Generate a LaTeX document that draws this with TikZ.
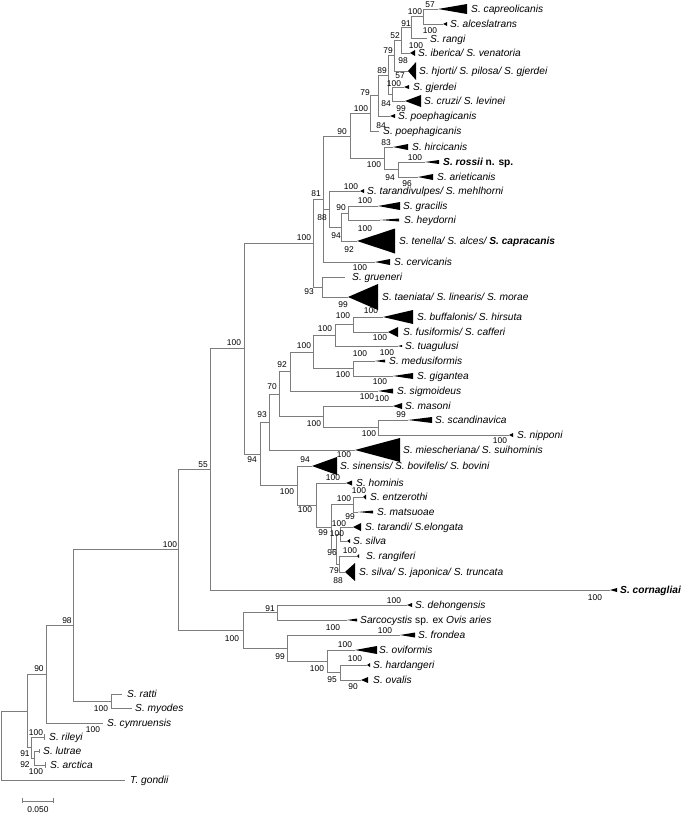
\documentclass[tikz,border=0pt]{standalone}
\usepackage{fontspec}
\setmainfont{Liberation Sans}
\usetikzlibrary{positioning}
\definecolor{branchgray}{RGB}{125,125,125}
\tikzset{
  br/.style={draw=branchgray, line width=0.9pt},
  sp/.style={font=\fontsize{10.2}{12}\selectfont\itshape, inner sep=0pt, anchor=west, text height=7.4pt, text depth=0pt},
  bs/.style={font=\fontsize{8.4}{10}\selectfont, inner sep=0pt, text height=6pt, text depth=0pt},
}
\newcommand{\clade}[3]{\fill (#1) -- ++(#2,#3) -- ++(0,{-2*(#3)}) -- cycle;}

\begin{document}
\begin{tikzpicture}[x=1pt,y=-1pt]
    \useasboundingbox (0,0) rectangle (685,814);

    % internal nodes
    \coordinate (cA) at (423,16.5);
    \coordinate (cB) at (411,27);
    \coordinate (cC) at (401,40);
    \coordinate (cD) at (394,55.5);
    \coordinate (cE) at (388,75);
    \coordinate (cF) at (392,94);
    \coordinate (cP) at (378,95.5);
    \coordinate (cQ) at (370,113);
    \coordinate (cS) at (398,169.5);
    \coordinate (cR) at (384,158);
    \coordinate (cX) at (350,136);
    \coordinate (cU) at (348,213);
    \coordinate (cT) at (341,227);
    \coordinate (cV) at (329,209);
    \coordinate (cWa) at (323,199);
    \coordinate (cWb) at (322,287);
    \coordinate (cW) at (313,243);
    \coordinate (cNd) at (353,324.5);
    \coordinate (cNb) at (335,335);
    \coordinate (cNc) at (353,368.5);
    \coordinate (cNa) at (313,352);
    \coordinate (cMe) at (290,371.5);
    \coordinate (cNn) at (378,427.5);
    \coordinate (cNm) at (323,416.5);
    \coordinate (cMd) at (279,394);
    \coordinate (cMc) at (269,422);
    \coordinate (cH) at (353,504.5);
    \coordinate (cIa) at (340,534);
    \coordinate (cIb) at (339,564);
    \coordinate (cL) at (336,549);
    \coordinate (cJ) at (331,527);
    \coordinate (cK) at (316,505);
    \coordinate (cMb) at (297,485.5);
    \coordinate (cMa) at (260,454);
    \coordinate (cZ) at (244,348.5);
    \coordinate (cXf) at (210,469);
    \coordinate (cYd) at (340,672.5);
    \coordinate (cYc) at (327,661);
    \coordinate (cYb) at (287,648);
    \coordinate (cYa) at (277,612.5);
    \coordinate (cY) at (243,630);
    \coordinate (cXh) at (178,549.5);
    \coordinate (cRM) at (111,701);
    \coordinate (cNe) at (73,625);
    \coordinate (cNf) at (46,674);
    \coordinate (cNh) at (34,758);
    \coordinate (cNg) at (31,747.5);
    \coordinate (cNi) at (27,711);
    \coordinate (root) at (1,745.5);

    % tips
    \coordinate (capreo) at (438,9);
    \coordinate (alces) at (443,24);
    \coordinate (rangi) at (427,38);
    \coordinate (iberica) at (410,53);
    \coordinate (hjorti) at (408,71);
    \coordinate (gjerdei) at (404,87);
    \coordinate (cruzi) at (405,101);
    \coordinate (poepha) at (390,116);
    \coordinate (poephb) at (379,131);
    \coordinate (hirc) at (393,147);
    \coordinate (rossii) at (425,162);
    \coordinate (ariet) at (418,177);
    \coordinate (taranv) at (360,191);
    \coordinate (gracilis) at (378,206);
    \coordinate (heyd) at (380,220);
    \coordinate (tenella) at (357,241);
    \coordinate (cerv) at (375,262);
    \coordinate (gruen) at (345,277);
    \coordinate (taen) at (348,297);
    \coordinate (buff) at (383,317);
    \coordinate (fusif) at (388,332);
    \coordinate (tuag) at (398,346);
    \coordinate (medus) at (375,361);
    \coordinate (gigan) at (393,376);
    \coordinate (sigm) at (378,391);
    \coordinate (masoni) at (393,406);
    \coordinate (scand) at (408,420);
    \coordinate (nipp) at (509,435);
    \coordinate (miesch) at (355,450);
    \coordinate (sinen) at (312,466);
    \coordinate (homin) at (346,483);
    \coordinate (entz) at (363,497);
    \coordinate (matsu) at (358,512);
    \coordinate (tarandi) at (353,527);
    \coordinate (silva) at (347,541);
    \coordinate (rangif) at (357,556);
    \coordinate (silvaj) at (345,572);
    \coordinate (corn) at (610,590);
    \coordinate (dehong) at (407,605);
    \coordinate (sarco) at (347,620);
    \coordinate (frond) at (400,635);
    \coordinate (ovif) at (355,650);
    \coordinate (hardan) at (367,665);
    \coordinate (ovalis) at (361,680);
    \coordinate (ratti) at (122,694);
    \coordinate (myodes) at (132,708);
    \coordinate (cymru) at (103,723);
    \coordinate (rileyi) at (44,737);
    \coordinate (lutrae) at (39,751);
    \coordinate (arctica) at (45,765);
    \coordinate (gondii) at (125,780);

    % branches
    \draw[br] (cA) |- (capreo) (cA) |- (alces);
    \draw[br] (cB) |- (cA) (cB) |- (rangi);
    \draw[br] (cC) |- (cB) (cC) |- (iberica);
    \draw[br] (cD) |- (cC) (cD) |- (hjorti);
    \draw[br] (cF) |- (gjerdei) (cF) |- (cruzi);
    \draw[br] (cE) |- (cD) (cE) |- (cF);
    \draw[br] (cP) |- (cE) (cP) |- (poepha);
    \draw[br] (cQ) |- (cP) (cQ) |- (poephb);
    \draw[br] (cS) |- (rossii) (cS) |- (ariet);
    \draw[br] (cR) |- (hirc) (cR) |- (cS);
    \draw[br] (cX) |- (cQ) (cX) |- (cR);
    \draw[br] (cU) |- (gracilis) (cU) |- (heyd);
    \draw[br] (cT) |- (cU) (cT) |- (tenella);
    \draw[br] (cV) |- (taranv) (cV) |- (cT);
    \draw[br] (cWa) |- (cX) (cWa) |- (cV) (cWa) |- (cerv);
    \draw[br] (cWb) |- (gruen) (cWb) |- (taen);
    \draw[br] (cW) |- (cWa) (cW) |- (cWb);
    \draw[br] (cNd) |- (buff) (cNd) |- (fusif);
    \draw[br] (cNb) |- (cNd) (cNb) |- (tuag);
    \draw[br] (cNc) |- (medus) (cNc) |- (gigan);
    \draw[br] (cNa) |- (cNb) (cNa) |- (cNc);
    \draw[br] (cMe) |- (cNa) (cMe) |- (sigm);
    \draw[br] (cNn) |- (scand) (cNn) |- (nipp);
    \draw[br] (cNm) |- (masoni) (cNm) |- (cNn);
    \draw[br] (cMd) |- (cMe) (cMd) |- (cNm);
    \draw[br] (cMc) |- (cMd) (cMc) |- (miesch);
    \draw[br] (cH) |- (entz) (cH) |- (matsu);
    \draw[br] (cIa) |- (tarandi) (cIa) |- (silva);
    \draw[br] (cIb) |- (rangif) (cIb) |- (silvaj);
    \draw[br] (cL) |- (cIa) (cL) |- (cIb);
    \draw[br] (cJ) |- (cH) (cJ) |- (cL);
    \draw[br] (cK) |- (homin) (cK) |- (cJ);
    \draw[br] (cMb) |- (sinen) (cMb) |- (cK);
    \draw[br] (cMa) |- (cMc) (cMa) |- (cMb);
    \draw[br] (cZ) |- (cW) (cZ) |- (cMa);
    \draw[br] (cXf) |- (cZ) (cXf) |- (corn);
    \draw[br] (cYd) |- (hardan) (cYd) |- (ovalis);
    \draw[br] (cYc) |- (ovif) (cYc) |- (cYd);
    \draw[br] (cYb) |- (frond) (cYb) |- (cYc);
    \draw[br] (cYa) |- (dehong) (cYa) |- (sarco);
    \draw[br] (cY) |- (cYa) (cY) |- (cYb);
    \draw[br] (cXh) |- (cXf) (cXh) |- (cY);
    \draw[br] (cRM) |- (ratti) (cRM) |- (myodes);
    \draw[br] (cNe) |- (cXh) (cNe) |- (cRM);
    \draw[br] (cNf) |- (cNe) (cNf) |- (cymru);
    \draw[br] (cNh) |- (lutrae) (cNh) |- (arctica);
    \draw[br] (cNg) |- (rileyi) (cNg) |- (cNh);
    \draw[br] (cNi) |- (cNf) (cNi) |- (cNg);
    \draw[br] (root) |- (cNi) (root) |- (gondii);

    % collapsed clades
    \clade{capreo}{29}{5}
    \clade{alces}{4}{2}
    \clade{iberica}{5}{3}
    \clade{hjorti}{8}{9}
    \clade{gjerdei}{5}{2}
    \clade{cruzi}{16}{6}
    \clade{poepha}{5}{2}
    \clade{hirc}{15}{3}
    \clade{rossii}{14}{2}
    \clade{ariet}{15}{3}
    \clade{taranv}{4}{2}
    \clade{gracilis}{22}{4}
    \clade{heyd}{19}{1.5}
    \clade{tenella}{38}{12.5}
    \clade{cerv}{15}{3}
    \clade{taen}{30}{13}
    \clade{buff}{30}{7}
    \clade{fusif}{10}{5}
    \clade{tuag}{4}{1}
    \clade{medus}{10}{1.5}
    \clade{gigan}{20}{3}
    \clade{sigm}{15}{2.5}
    \clade{masoni}{9}{3}
    \clade{scand}{24}{3}
    \clade{nipp}{4}{2}
    \clade{miesch}{45}{12}
    \clade{sinen}{25}{9}
    \clade{homin}{6}{2.5}
    \clade{entz}{3}{2.5}
    \clade{matsu}{15}{1.5}
    \clade{tarandi}{8}{4}
    \clade{silva}{3}{2}
    \clade{rangif}{2}{2}
    \clade{silvaj}{10}{9}
    \clade{corn}{7}{2}
    \clade{dehong}{5}{2}
    \clade{sarco}{10}{1.5}
    \clade{frond}{15}{2.5}
    \clade{ovif}{22}{4}
    \clade{hardan}{3}{2}
    \clade{ovalis}{7}{3}
    \draw[br] (rileyi) ++(0,-3) -- ++(0,6);
    \draw[br] (lutrae) ++(0,-2) -- ++(0,4);
    \draw[br] (arctica) ++(0,-3) -- ++(0,6);

    % taxon names
    \node[sp] (tcapreo) at (471,9) {S. capreolicanis};
    \node[sp] (talces) at (450,24) {S. alceslatrans};
    \node[sp] (trangi) at (430,38.5) {S. rangi};
    \node[sp] (tiberica) at (418,53) {S. iberica/ S. venatoria};
    \node[sp] (thjorti) at (419,71) {S. hjorti/ S. pilosa/ S. gjerdei};
    \node[sp] (tgjerdei) at (413,87) {S. gjerdei};
    \node[sp] (tcruzi) at (424,101) {S. cruzi/ S. levinei};
    \node[sp] (tpoepha) at (398,116) {S. poephagicanis};
    \node[sp] (tpoephb) at (383,131) {S. poephagicanis};
    \node[sp] (thirc) at (412,147) {S. hircicanis};
    \node[sp] (trossii) at (443,162) {\textbf{S. rossii} \textbf{\upshape n. sp.}};
    \node[sp] (tariet) at (437,177) {S. arieticanis};
    \node[sp] (ttaranv) at (367,191) {S. tarandivulpes/ S. mehlhorni};
    \node[sp] (tgracilis) at (403,206) {S. gracilis};
    \node[sp] (theyd) at (404,220) {S. heydorni};
    \node[sp] (ttenella) at (399,241) {S. tenella/ S. alces/ \textbf{S. capracanis}};
    \node[sp] (tcerv) at (394,262) {S. cervicanis};
    \node[sp] (tgruen) at (352,277) {S. grueneri};
    \node[sp] (ttaen) at (382,297) {S. taeniata/ S. linearis/ S. morae};
    \node[sp] (tbuff) at (417,317) {S. buffalonis/ S. hirsuta};
    \node[sp] (tfusif) at (403,332) {S. fusiformis/ S. cafferi};
    \node[sp] (ttuag) at (405,346) {S. tuagulusi};
    \node[sp] (tmedus) at (389,361) {S. medusiformis};
    \node[sp] (tgigan) at (417,376) {S. gigantea};
    \node[sp] (tsigm) at (397,391) {S. sigmoideus};
    \node[sp] (tmasoni) at (405,406) {S. masoni};
    \node[sp] (tscand) at (435,420) {S. scandinavica};
    \node[sp] (tnipp) at (517,435) {S. nipponi};
    \node[sp] (tmiesch) at (403,450) {S. miescheriana/ S. suihominis};
    \node[sp] (tsinen) at (340,466) {S. sinensis/ S. bovifelis/ S. bovini};
    \node[sp] (thomin) at (356,482.5) {S. hominis};
    \node[sp] (tentz) at (370,497) {S. entzerothi};
    \node[sp] (tmatsu) at (377,512) {S. matsuoae};
    \node[sp] (ttarandi) at (365,527) {S. tarandi/ S.elongata};
    \node[sp] (tsilva) at (353,541) {S. silva};
    \node[sp] (trangif) at (366,556) {S. rangiferi};
    \node[sp] (tsilvaj) at (359,572) {S. silva/ S. japonica/ S. truncata};
    \node[sp] (tcorn) at (620,590) {\textbf{S. cornagliai}};
    \node[sp] (tdehong) at (415,605) {S. dehongensis};
    \node[sp] (tsarco) at (360,620) {Sarcocystis {\upshape sp. ex} Ovis aries};
    \node[sp] (tfrond) at (418,635) {S. frondea};
    \node[sp] (tovif) at (379,650) {S. oviformis};
    \node[sp] (thardan) at (373,665) {S. hardangeri};
    \node[sp] (tovalis) at (373,680) {S. ovalis};
    \node[sp] (tratti) at (127,694) {S. ratti};
    \node[sp] (tmyodes) at (135,708) {S. myodes};
    \node[sp] (tcymru) at (107,723) {S. cymruensis};
    \node[sp] (trileyi) at (49,737) {S. rileyi};
    \node[sp] (tlutrae) at (43,751) {S. lutrae};
    \node[sp] (tarctica) at (50,765) {S. arctica};
    \node[sp] (tgondii) at (130,780) {T. gondii};

    % bootstrap values
    \node[bs] (b01) at (430,4) {57};
    \node[bs] (b02) at (415,11) {100};
    \node[bs] (b03) at (406,23) {91};
    \node[bs] (b04) at (430,30) {100};
    \node[bs] (b05) at (395,35) {52};
    \node[bs] (b06) at (416,45) {100};
    \node[bs] (b07) at (388,50) {79};
    \node[bs] (b08) at (403,60) {98};
    \node[bs] (b09) at (382,70) {89};
    \node[bs] (b10) at (400,75.5) {57};
    \node[bs] (b11) at (394,83.5) {100};
    \node[bs] (b12) at (365,92) {79};
    \node[bs] (b13) at (386,103) {84};
    \node[bs] (b14) at (401,108) {99};
    \node[bs] (b15) at (361,108) {100};
    \node[bs] (b16) at (381,125) {84};
    \node[bs] (b17) at (342,131) {90};
    \node[bs] (b18) at (386,142) {83};
    \node[bs] (b19) at (415,157) {100};
    \node[bs] (b20) at (374,164) {100};
    \node[bs] (b21) at (390,177) {94};
    \node[bs] (b22) at (407,183) {96};
    \node[bs] (b23) at (351,186) {100};
    \node[bs] (b24) at (316,193) {81};
    \node[bs] (b25) at (365,200) {100};
    \node[bs] (b26) at (341,207) {90};
    \node[bs] (b27) at (322,217) {88};
    \node[bs] (b28) at (365,228) {100};
    \node[bs] (b29) at (336,235) {94};
    \node[bs] (b30) at (304,237) {100};
    \node[bs] (b31) at (349,249) {92};
    \node[bs] (b32) at (360,267) {100};
    \node[bs] (b33) at (309,291) {93};
    \node[bs] (b34) at (343,304) {99};
    \node[bs] (b35) at (371,310) {100};
    \node[bs] (b36) at (343,315) {100};
    \node[bs] (b37) at (325,328) {100};
    \node[bs] (b38) at (234,342) {100};
    \node[bs] (b39) at (304,345) {100};
    \node[bs] (b40) at (380,337) {100};
    \node[bs] (b41) at (360,353) {100};
    \node[bs] (b42) at (387,352) {100};
    \node[bs] (b43) at (282,364) {92};
    \node[bs] (b44) at (343,374) {100};
    \node[bs] (b45) at (380,381) {100};
    \node[bs] (b46) at (272,386) {70};
    \node[bs] (b47) at (367,396) {100};
    \node[bs] (b48) at (382,398) {100};
    \node[bs] (b49) at (262,414) {93};
    \node[bs] (b50) at (401,414) {99};
    \node[bs] (b51) at (314,423) {100};
    \node[bs] (b52) at (369,433) {100};
    \node[bs] (b53) at (500,440) {100};
    \node[bs] (b54) at (252,459) {94};
    \node[bs] (b55) at (344,454) {100};
    \node[bs] (b56) at (305,459) {94};
    \node[bs] (b57) at (333,477) {100};
    \node[bs] (b58) at (287,491) {100};
    \node[bs] (b59) at (359,490.5) {100};
    \node[bs] (b60) at (344,498) {100};
    \node[bs] (b61) at (305,509) {100};
    \node[bs] (b62) at (350,516) {99};
    \node[bs] (b63) at (339,523) {100};
    \node[bs] (b64) at (323,532) {99};
    \node[bs] (b65) at (337,533) {100};
    \node[bs] (b66) at (350,550) {100};
    \node[bs] (b67) at (332,552) {96};
    \node[bs] (b68) at (334,570) {79};
    \node[bs] (b69) at (338,580) {88};
    \node[bs] (b70) at (203,464) {55};
    \node[bs] (b71) at (170,544) {100};
    \node[bs] (b72) at (595,597) {100};
    \node[bs] (b73) at (270,608) {91};
    \node[bs] (b74) at (394,600) {100};
    \node[bs] (b75) at (333,627) {100};
    \node[bs] (b76) at (232,638) {100};
    \node[bs] (b77) at (385,630) {100};
    \node[bs] (b78) at (345,644) {100};
    \node[bs] (b79) at (280,656) {99};
    \node[bs] (b80) at (317,668) {100};
    \node[bs] (b81) at (355,658) {100};
    \node[bs] (b82) at (332,679) {95};
    \node[bs] (b83) at (353,686) {90};
    \node[bs] (b84) at (67,620) {98};
    \node[bs] (b85) at (39,668) {90};
    \node[bs] (b86) at (101,708) {100};
    \node[bs] (b87) at (93,729) {100};
    \node[bs] (b88) at (36,732) {100};
    \node[bs] (b89) at (25,753) {91};
    \node[bs] (b90) at (25,764) {92};
    \node[bs] (b91) at (36,771) {100};

    % scale bar
    \coordinate (sbl) at (22,801);
    \coordinate (sbr) at (53,801);
    \draw[br] (sbl) -- (sbr);
    \draw[br] (sbl) ++(0,-3) -- ++(0,5) (sbr) ++(0,-3) -- ++(0,5);
    \node[bs] (sbt) at (38,809) {0.050};
\end{tikzpicture}
\end{document}
